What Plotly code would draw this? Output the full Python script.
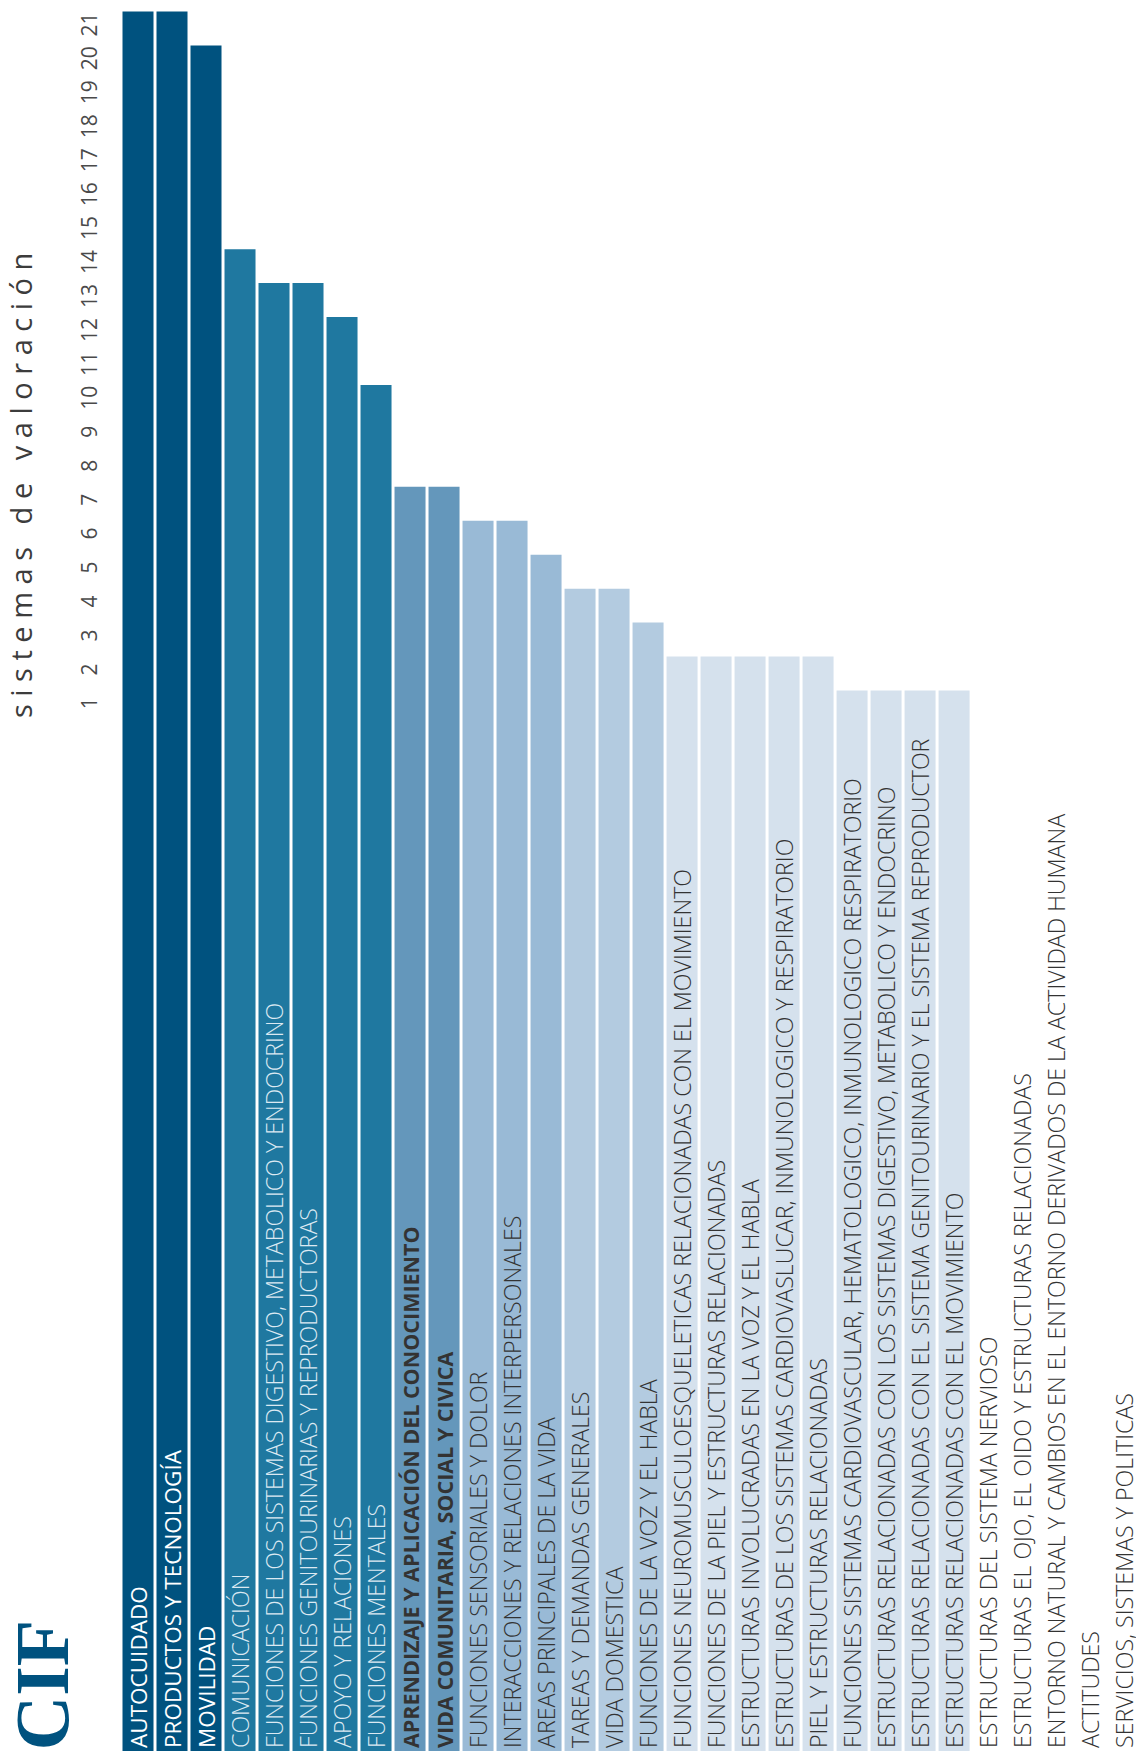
import plotly.graph_objects as go

categories = [
    "AUTOCUIDADO",
    "PRODUCTOS Y TECNOLOGÍA",
    "MOVILIDAD",
    "COMUNICACIÓN",
    "FUNCIONES DE LOS SISTEMAS DIGESTIVO, METABOLICO Y ENDOCRINO",
    "FUNCIONES GENITOURINARIAS Y REPRODUCTORAS",
    "APOYO Y RELACIONES",
    "FUNCIONES MENTALES",
    "APRENDIZAJE Y APLICACIÓN DEL CONOCIMIENTO",
    "VIDA COMUNITARIA, SOCIAL Y CIVICA",
    "FUNCIONES SENSORIALES Y DOLOR",
    "INTERACCIONES Y RELACIONES INTERPERSONALES",
    "AREAS PRINCIPALES DE LA VIDA",
    "TAREAS Y DEMANDAS GENERALES",
    "VIDA DOMESTICA",
    "FUNCIONES DE LA VOZ Y EL HABLA",
    "FUNCIONES NEUROMUSCULOESQUELETICAS RELACIONADAS CON EL MOVIMIENTO",
    "FUNCIONES DE LA PIEL Y ESTRUCTURAS RELACIONADAS",
    "ESTRUCTURAS INVOLUCRADAS EN LA VOZ Y EL HABLA",
    "ESTRUCTURAS DE LOS SISTEMAS CARDIOVASLUCAR, INMUNOLOGICO Y RESPIRATORIO",
    "PIEL Y ESTRUCTURAS RELACIONADAS",
    "FUNCIONES SISTEMAS CARDIOVASCULAR, HEMATOLOGICO, INMUNOLOGICO RESPIRATORIO",
    "ESTRUCTURAS RELACIONADAS CON LOS SISTEMAS DIGESTIVO, METABOLICO Y ENDOCRINO",
    "ESTRUCTURAS RELACIONADAS CON EL SISTEMA GENITOURINARIO Y EL SISTEMA REPRODUCTOR",
    "ESTRUCTURAS RELACIONADAS CON EL MOVIMIENTO",
    "ESTRUCTURAS DEL SISTEMA NERVIOSO",
    "ESTRUCTURAS EL OJO, EL OIDO Y ESTRUCTURAS RELACIONADAS",
    "ENTORNO NATURAL Y CAMBIOS EN EL ENTORNO DERIVADOS DE LA ACTIVIDAD HUMANA",
    "ACTITUDES",
    "SERVICIOS, SISTEMAS Y POLITICAS",
]

values = [21, 21, 20, 14, 13, 13, 12, 10, 7, 7, 6, 6, 5, 4, 4, 3,
          2, 2, 2, 2, 2, 1, 1, 1, 1, 0, 0, 0, 0, 0]

bold_labels = ["APRENDIZAJE Y APLICACIÓN DEL CONOCIMIENTO",
               "VIDA COMUNITARIA, SOCIAL Y CIVICA"]

tick_values = list(range(1, 22))
tick_labels = [str(v) for v in tick_values]

axis_title = "sistemas de valoración"
logo_text = "CIF"

# styling helpers
Y_MIN, Y_MAX = -30.24, 21.34


def bar_color(v):
    if v >= 20:
        return "#00527f"
    if v >= 10:
        return "#1f78a0"
    if v >= 7:
        return "#6497bb"
    if v >= 5:
        return "#99bad6"
    if v >= 3:
        return "#b3cbe0"
    if v >= 1:
        return "#d5e1ed"
    return "rgba(255,255,255,0)"


def text_color(v):
    if v >= 20:
        return "#ffffff"
    if v >= 10:
        return "#dce9f2"
    return "#333333"


def text_weight(v, name):
    if name in bold_labels:
        return 700
    if v >= 20:
        return 500
    return 300


def text_size(v, name):
    if name in bold_labels:
        return 21.5
    if v >= 20:
        return 22.5
    return 23.2


labels = [f"<b>{c}</b>" if c in bold_labels else c for c in categories]

fig = go.Figure(
    go.Bar(
        x=categories,
        y=[v - Y_MIN for v in values],
        base=Y_MIN,
        marker=dict(color=[bar_color(v) for v in values], line=dict(width=0)),
        text=labels,
        texttemplate="%{text}",
        textposition="inside",
        insidetextanchor="start",
        textangle=-90,
        constraintext="none",
        insidetextfont=dict(
            family="Open Sans",
            size=[text_size(v, c) for v, c in zip(values, categories)],
            color=[text_color(v) for v in values],
            weight=[text_weight(v, c) for v, c in zip(values, categories)],
        ),
        hoverinfo="skip",
        cliponaxis=True,
    )
)

spaced_title = ("\u00a0" * 3).join("\u00a0".join(w) for w in axis_title.split(" "))

fig.update_layout(
    width=1136,
    height=1751,
    margin=dict(l=121, r=0, t=0, b=0),
    paper_bgcolor="white",
    plot_bgcolor="white",
    bargap=0.088,
    showlegend=False,
    font=dict(family="Open Sans", color="#444444"),
    xaxis=dict(
        type="category",
        range=[-0.5, 29.35],
        showticklabels=False,
        showgrid=False,
        zeroline=False,
        showline=False,
        ticks="",
    ),
    yaxis=dict(
        range=[Y_MIN, Y_MAX],
        tickvals=tick_values,
        ticktext=tick_labels,
        tickangle=-90,
        tickfont=dict(family="Open Sans", size=21, color="#4a4a4a"),
        ticklabelshift=16,
        ticklabelstandoff=19,
        ticks="",
        showgrid=False,
        zeroline=False,
        showline=False,
    ),
    annotations=[
        dict(
            text=spaced_title,
            xref="paper", yref="paper",
            x=-0.0995, y=0.7224,
            xanchor="center", yanchor="middle",
            textangle=-90,
            showarrow=False,
            font=dict(family="Open Sans", size=29, color="#3c3c3c"),
        ),
        dict(
            text=f"<b>{logo_text}</b>",
            xref="paper", yref="paper",
            x=-0.0775, y=-0.001,
            xanchor="center", yanchor="bottom",
            textangle=-90,
            showarrow=False,
            font=dict(family="Liberation Serif", size=76, color="#00527f"),
        ),
    ],
)

fig.write_html(
    "out.html",
    config={"displayModeBar": False},
    post_script="document.body.style.margin='0';document.body.style.overflow='hidden';",
)
